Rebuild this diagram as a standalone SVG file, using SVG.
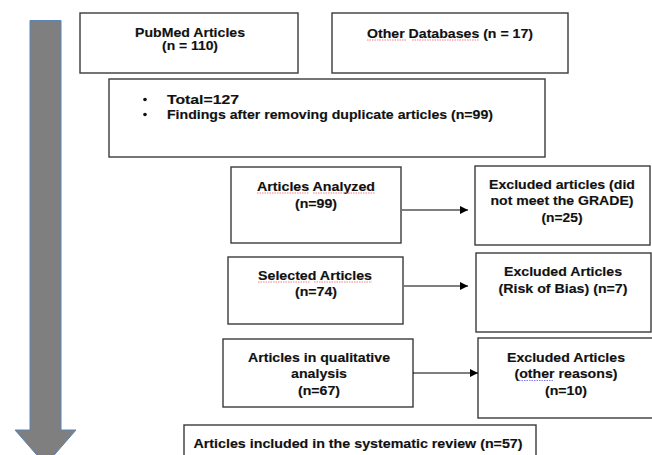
<svg xmlns="http://www.w3.org/2000/svg" width="652" height="455" viewBox="0 0 652 455">
<style>
.box{fill:#fff;stroke:#3a3a3a;stroke-width:1.4}
.t{font-family:"Liberation Sans",Arial,sans-serif;font-weight:bold;font-size:13px;fill:#111;text-anchor:middle;stroke:#111;stroke-width:0.15}
.tl{text-anchor:start}
.conn{stroke:#000;stroke-width:1.2;fill:none}
.sq{stroke:#f08080;stroke-width:1;fill:none;stroke-dasharray:1.5 1}
.sqb{stroke:#8080e0;stroke-width:1;fill:none;stroke-dasharray:1.5 1}
</style>
<defs>
<marker id="ah" viewBox="0 0 10 10" refX="10" refY="5" markerWidth="8" markerHeight="8" markerUnits="userSpaceOnUse" orient="auto">
<path d="M0,0 L10,5 L0,10 z" fill="#000"/>
</marker>
</defs>
<rect width="652" height="455" fill="#fff"/>
<g id="flow-arrow">
<path d="M30,20.5 L61,20.5 L61,430 L76,430 L45.5,465 L15,430 L30,430 Z" fill="#7f7f7f" stroke="#5b84b8" stroke-width="1"/>
</g>
<g id="pubmed">
<rect class="box" x="80" y="13" width="218" height="60"/>
<text class="t" x="190" y="36.5" textLength="110" lengthAdjust="spacingAndGlyphs">PubMed Articles</text>
<text class="t" x="190" y="50" textLength="56" lengthAdjust="spacingAndGlyphs">(n = 110)</text>
</g>
<g id="other-db">
<rect class="box" x="332" y="13" width="236" height="60"/>
<text class="t" x="450" y="37.5" textLength="166" lengthAdjust="spacingAndGlyphs">Other Databases (n = 17)</text>
<path class="sq" d="M367,40 H406 M412,40 H479"/>
</g>
<g id="total">
<rect class="box" x="109" y="79" width="436" height="78"/>
<circle cx="145" cy="99.5" r="1.8" fill="#111"/>
<circle cx="145" cy="114.5" r="1.8" fill="#111"/>
<text class="t tl" x="167" y="104" textLength="72" lengthAdjust="spacingAndGlyphs">Total=127</text>
<text class="t tl" x="167" y="119" textLength="326" lengthAdjust="spacingAndGlyphs">Findings after removing duplicate articles (n=99)</text>
</g>
<g id="analyzed">
<rect class="box" x="231" y="167" width="170" height="76"/>
<text class="t" x="316" y="190.5" textLength="118" lengthAdjust="spacingAndGlyphs">Articles Analyzed</text>
<text class="t" x="316" y="207.5" textLength="42" lengthAdjust="spacingAndGlyphs">(n=99)</text>
<path class="sq" d="M257,193 H309 M313,193 H375"/>
</g>
<g id="excl-grade">
<rect class="box" x="475" y="166" width="175" height="79"/>
<text class="t" x="562" y="188.5" textLength="146" lengthAdjust="spacingAndGlyphs">Excluded articles (did</text>
<text class="t" x="562" y="205" textLength="143" lengthAdjust="spacingAndGlyphs">not meet the GRADE)</text>
<text class="t" x="562" y="221.5" textLength="41" lengthAdjust="spacingAndGlyphs">(n=25)</text>
</g>
<g id="selected">
<rect class="box" x="228" y="257" width="175" height="67"/>
<text class="t" x="315" y="279.5" textLength="114" lengthAdjust="spacingAndGlyphs">Selected Articles</text>
<text class="t" x="316" y="295.5" textLength="42" lengthAdjust="spacingAndGlyphs">(n=74)</text>
<path class="sq" d="M258,282 H310 M314,282 H372"/>
</g>
<g id="excl-bias">
<rect class="box" x="476" y="253" width="175" height="79"/>
<text class="t" x="563" y="275.5" textLength="118" lengthAdjust="spacingAndGlyphs">Excluded Articles</text>
<text class="t" x="563" y="292.5" textLength="129" lengthAdjust="spacingAndGlyphs">(Risk of Bias) (n=7)</text>
</g>
<g id="qualitative">
<rect class="box" x="223" y="339" width="190" height="68"/>
<text class="t" x="319" y="361.5" textLength="142" lengthAdjust="spacingAndGlyphs">Articles in qualitative</text>
<text class="t" x="319" y="378" textLength="56" lengthAdjust="spacingAndGlyphs">analysis</text>
<text class="t" x="319" y="394.5" textLength="42" lengthAdjust="spacingAndGlyphs">(n=67)</text>
</g>
<g id="excl-other">
<rect class="box" x="478" y="338" width="180" height="80"/>
<text class="t" x="566" y="361.5" textLength="118" lengthAdjust="spacingAndGlyphs">Excluded Articles</text>
<text class="t" x="566" y="378" textLength="103" lengthAdjust="spacingAndGlyphs">(other reasons)</text>
<text class="t" x="566" y="394.5" textLength="42" lengthAdjust="spacingAndGlyphs">(n=10)</text>
<path class="sqb" d="M519,380.5 H554"/>
</g>
<g id="included">
<rect class="box" x="184" y="425" width="352" height="40"/>
<text class="t" x="358" y="447.5" textLength="329" lengthAdjust="spacingAndGlyphs">Articles included in the systematic review (n=57)</text>
</g>
<g id="connectors">
<line class="conn" x1="402" y1="210" x2="468" y2="210" marker-end="url(#ah)"/>
<line class="conn" x1="404" y1="286" x2="468" y2="286" marker-end="url(#ah)"/>
<line class="conn" x1="413" y1="373" x2="478" y2="373" marker-end="url(#ah)"/>
</g>
</svg>
